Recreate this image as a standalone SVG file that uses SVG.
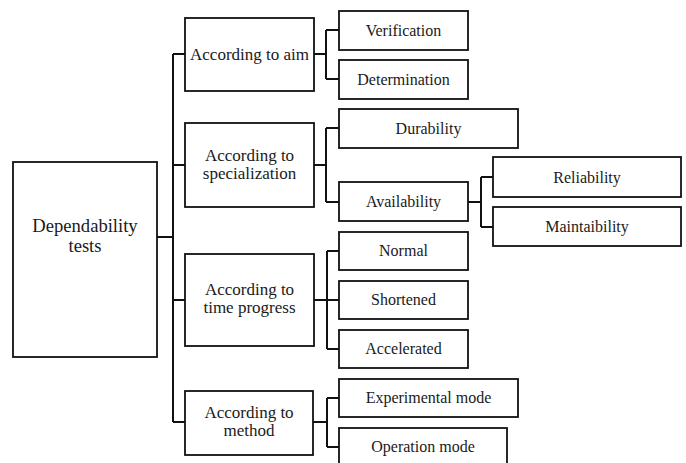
<svg xmlns="http://www.w3.org/2000/svg" width="686" height="463" viewBox="0 0 686 463">
<style>
rect{fill:#fff;stroke:#111;stroke-width:1.8}
text{font-family:"Liberation Serif","Times New Roman",serif;fill:#1a1a1a;text-anchor:middle}
.c{font-size:17px}
.r{font-size:18.6px}
.l{font-size:16px}
#connectors path{fill:none;stroke:#111;stroke-width:2}
</style>
<rect x="0" y="0" width="686" height="463" style="stroke:none"/>
<g id="connectors">
<path d="M157 237H173M173 54V422M173 54H185M173 165H185M173 300H185M173 422H185"/>
<path d="M314 54H326M326 30V79M326 30H339M326 79H339"/>
<path d="M314 165H326M326 128V202M326 128H339M326 202H339"/>
<path d="M468 202H481M481 177V227M481 177H493M481 227H493"/>
<path d="M314 300H339M327 251V349M327 251H339M327 349H339"/>
<path d="M313 422H327M327 398V447M327 398H339M327 447H339"/>
</g>
<g id="root"><rect x="13" y="162" width="144" height="195"/><text class="r" x="85" y="232">Dependability</text><text class="r" x="85" y="252">tests</text></g>
<g id="aim"><rect x="185" y="18" width="129" height="73"/><text class="c" x="249.5" y="60">According to aim</text></g>
<g id="spec"><rect x="185" y="123" width="129" height="84"/><text class="c" x="249.5" y="161">According to</text><text class="c" x="249.5" y="179">specialization</text></g>
<g id="time"><rect x="185" y="254" width="129" height="92"/><text class="c" x="249.5" y="295">According to</text><text class="c" x="249.5" y="313">time progress</text></g>
<g id="method"><rect x="185" y="391" width="128" height="64"/><text class="c" x="249" y="418">According to</text><text class="c" x="249" y="436">method</text></g>
<g id="verification"><rect x="339" y="11" width="129" height="39"/><text class="l" x="403.5" y="36">Verification</text></g>
<g id="determination"><rect x="339" y="60" width="129" height="39"/><text class="l" x="403.5" y="85">Determination</text></g>
<g id="durability"><rect x="339" y="109" width="179" height="39"/><text class="l" x="428.5" y="134">Durability</text></g>
<g id="availability"><rect x="339" y="182" width="129" height="39"/><text class="l" x="403.5" y="207">Availability</text></g>
<g id="reliability"><rect x="493" y="157" width="188" height="40"/><text class="l" x="587" y="183">Reliability</text></g>
<g id="maintaibility"><rect x="493" y="207" width="188" height="39"/><text class="l" x="587" y="232">Maintaibility</text></g>
<g id="normal"><rect x="339" y="232" width="129" height="38"/><text class="l" x="403.5" y="256">Normal</text></g>
<g id="shortened"><rect x="339" y="281" width="129" height="38"/><text class="l" x="403.5" y="305">Shortened</text></g>
<g id="accelerated"><rect x="339" y="330" width="129" height="38"/><text class="l" x="403.5" y="354">Accelerated</text></g>
<g id="experimental"><rect x="339" y="379" width="179" height="38"/><text class="l" x="428.5" y="403">Experimental  mode</text></g>
<g id="operation"><rect x="339" y="428" width="168" height="39"/><text class="l" x="423" y="452">Operation mode</text></g>
</svg>
